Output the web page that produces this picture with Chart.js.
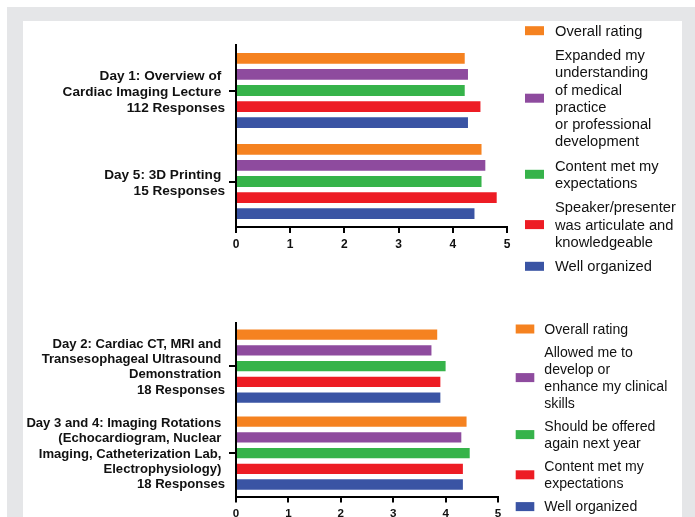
<!DOCTYPE html>
<html>
<head>
<meta charset="utf-8">
<script src="https://cdn.jsdelivr.net/npm/chart.js"></script>
<style>
  html,body{margin:0;padding:0;width:695px;height:517px;overflow:hidden;background:#fff;}
  #frame{position:absolute;left:7px;top:7px;width:688px;height:520px;background:#e5e6e8;}
  #panel{position:absolute;left:23px;top:21px;width:659px;height:510px;background:#fff;}
  canvas{position:absolute;left:0;}
  #topChart{top:0;}
  #bottomChart{top:300px;}
</style>
</head>
<body>
<div id="frame"></div>
<div id="panel"></div>
<canvas id="topChart" width="695" height="290"></canvas>
<canvas id="bottomChart" width="695" height="260"></canvas>
<script>
// top chart data
const topCategories=[
  ['Day 1: Overview of ','Cardiac Imaging Lecture ','112 Responses'],
  ['Day 5: 3D Printing ','15 Responses']
];
const topOverall=[4.22,4.53];
const topExpanded=[4.28,4.60];
const topContent=[4.22,4.53];
const topSpeaker=[4.51,4.81];
const topOrganized=[4.28,4.40];
const topLegend=[
  ['Overall rating'],
  ['Expanded my','understanding','of medical','practice','or professional','development'],
  ['Content met my','expectations'],
  ['Speaker/presenter','was articulate and','knowledgeable'],
  ['Well organized']
];

// bottom chart data
const bottomCategories=[
  ['Day 2: Cardiac CT, MRI and ','Transesophageal Ultrasound ','Demonstration ','18 Responses'],
  ['Day 3 and 4: Imaging Rotations ','(Echocardiogram, Nuclear ','Imaging, Catheterization Lab, ','Electrophysiology) ','18 Responses']
];
const bottomOverall=[3.84,4.40];
const bottomAllowed=[3.73,4.30];
const bottomOffered=[4.00,4.46];
const bottomContent=[3.90,4.33];
const bottomOrganized=[3.90,4.33];
const bottomLegend=[
  ['Overall rating'],
  ['Allowed me to','develop or','enhance my clinical','skills'],
  ['Should be offered','again next year'],
  ['Content met my','expectations'],
  ['Well organized']
];

const xTicks=[0,1,2,3,4,5];
const colors=['#f58220','#8e4b9e','#36b34a','#ed1c24','#3a54a4'];
const fontFam='"Liberation Sans", Arial, sans-serif';

// legend drawn by hand so the wrapped labels sit like the picture
const sideLegend={
  id:'sideLegend',
  afterDraw(chart,args,o){
    const ctx=chart.ctx;
    ctx.save();
    ctx.font=o.fontSize+'px '+fontFam;
    ctx.textBaseline='middle';
    ctx.textAlign='left';
    let y=o.firstY;
    chart.data.datasets.forEach((ds,i)=>{
      const lines=o.lines[i];
      const mid=y+(lines.length-1)*o.lineH/2;
      ctx.fillStyle=ds.backgroundColor;
      ctx.fillRect(o.swatchX,mid-o.swatchH/2,o.swatchW,o.swatchH);
      ctx.fillStyle='#111';
      lines.forEach((t,j)=>{
        ctx.fillText(t,o.textX,y+j*o.lineH+1);
      });
      y+=(lines.length-1)*o.lineH+o.gap;
    });
    ctx.restore();
  }
};

function makeSets(names,series,catPct,barPct){
  return series.map((vals,i)=>({
    label:names[i].join(' '),
    data:vals,
    backgroundColor:colors[i],
    borderWidth:0,
    categoryPercentage:catPct,
    barPercentage:barPct
  }));
}

function drawChart(id,cats,sets,cfg){
  const ctx=document.getElementById(id).getContext('2d');
  return new Chart(ctx,{
    type:'bar',
    data:{labels:cats,datasets:sets},
    plugins:[sideLegend],
    options:{
      indexAxis:'y',
      responsive:false,
      animation:false,
      devicePixelRatio:1,
      layout:{padding:cfg.padding},
      plugins:{
        legend:{display:false},
        tooltip:{enabled:false},
        sideLegend:cfg.legend
      },
      scales:{
        y:{
          // fixed width, and tall labels must not push the plot area down
          afterFit:(s)=>{s.width=236;s.paddingTop=0;s.paddingBottom=0;},
          grid:{offset:false,drawOnChartArea:false,drawTicks:true,tickLength:7,color:'#000',lineWidth:2},
          border:{color:'#000',width:2},
          ticks:{autoSkip:false,color:'#111',padding:4,labelOffset:cfg.labelShift,font:{family:fontFam,weight:'bold',size:cfg.catFont,lineHeight:cfg.catLine}}
        },
        x:{
          min:xTicks[0],
          max:xTicks[xTicks.length-1],
          afterFit:(s)=>{s.height=30;},
          afterBuildTicks:(s)=>{s.ticks=xTicks.map(v=>({value:v}));},
          grid:{drawOnChartArea:false,tickLength:6,color:'#000',lineWidth:2},
          border:{color:'#000',width:2},
          ticks:{autoSkip:false,color:'#111',padding:4,maxRotation:0,font:{family:fontFam,weight:'bold',size:cfg.tickFont}}
        }
      }
    }
  });
}

drawChart('topChart',topCategories,
  makeSets(topLegend,[topOverall,topExpanded,topContent,topSpeaker,topOrganized],0.885,0.67),
  {
    padding:{left:0,top:45,right:188,bottom:33},
    catFont:13.6,catLine:1.17,tickFont:12,labelShift:2,
    legend:{lines:topLegend,fontSize:14.7,firstY:30.7,lineH:17.2,gap:24.5,swatchX:525,swatchW:19,swatchH:9,textX:555}
  });

drawChart('bottomChart',bottomCategories,
  makeSets(bottomLegend,[bottomOverall,bottomAllowed,bottomOffered,bottomContent,bottomOrganized],0.905,0.655),
  {
    padding:{left:0,top:22.7,right:197,bottom:33.5},
    catFont:13.1,catLine:1.165,tickFont:11.6,labelShift:1,
    legend:{lines:bottomLegend,fontSize:14.1,firstY:29,lineH:16.8,gap:23.4,swatchX:515.7,swatchW:18.6,swatchH:9,textX:544.3}
  });
</script>
</body>
</html>
